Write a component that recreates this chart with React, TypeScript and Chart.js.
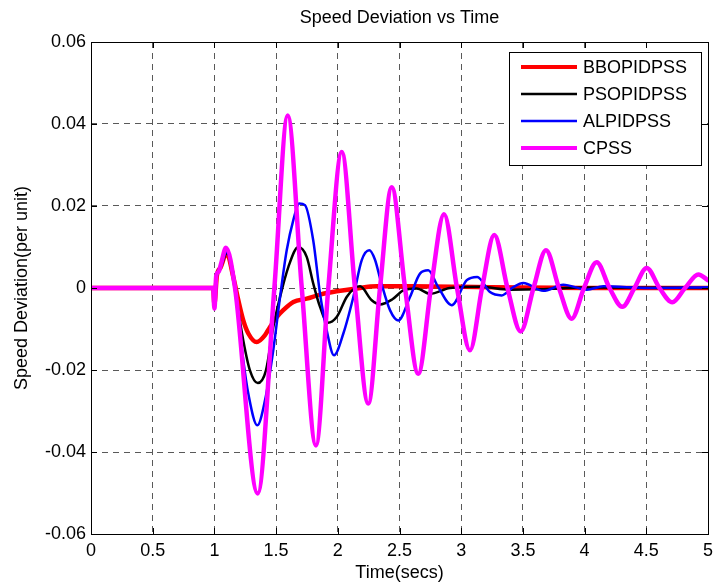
import { useEffect, useRef } from "react";
import { Chart, registerables } from "chart.js";

Chart.register(...registerables);

const chartTitle = "Speed Deviation vs Time";
const xAxisTitle = "Time(secs)";
const yAxisTitle = "Speed Deviation(per unit)";

const seriesLabels = ["BBOPIDPSS", "PSOPIDPSS", "ALPIDPSS", "CPSS"];
const seriesColors = ["#ff0000", "#000000", "#0000ff", "#ff00ff"];
const seriesWidths = [4.5, 2.5, 2.5, 4.5];

const xTickValues = [0, 0.5, 1, 1.5, 2, 2.5, 3, 3.5, 4, 4.5, 5];
const xTickLabels = ["0", "0.5", "1", "1.5", "2", "2.5", "3", "3.5", "4", "4.5", "5"];
const yTickValues = [-0.06, -0.04, -0.02, 0, 0.02, 0.04, 0.06];
const yTickLabels = ["-0.06", "-0.04", "-0.02", "0", "0.02", "0.04", "0.06"];

// BBOPIDPSS (red)
const bboTime = [0, 0.99, 1.0, 1.02, 1.05, 1.1, 1.153, 1.194, 1.234, 1.275, 1.343, 1.41, 1.451, 1.505, 1.558, 1.64, 1.748, 1.856, 1.99, 2.152, 2.315, 2.6, 3.0, 3.5, 4.0, 5.0];
const bboValue = [0, 0, -0.004, 0.003, 0.005, 0.0085, 0.0027, -0.003, -0.0079, -0.0111, -0.0132, -0.0115, -0.0095, -0.0071, -0.0054, -0.0034, -0.0026, -0.0016, -0.0008, -0.0001, 0.0004, 0.0004, 0.0003, 0.0001, 0.0, 0.0];

// PSOPIDPSS (black)
const psoTime = [0, 0.99, 1.0, 1.02, 1.05, 1.1, 1.15, 1.181, 1.234, 1.288, 1.351, 1.418, 1.477, 1.532, 1.599, 1.68, 1.748, 1.801, 1.856, 1.918, 1.991, 2.072, 2.139, 2.18, 2.275, 2.342, 2.44, 2.531, 2.639, 2.747, 2.909, 3.15, 3.395, 3.64, 4.0, 5.0];
const psoValue = [0, 0, -0.004, 0.003, 0.005, 0.0085, 0.004, -0.003, -0.0128, -0.0201, -0.0232, -0.0201, -0.0095, -0.0022, 0.0051, 0.01, 0.0076, 0.0011, -0.0046, -0.0085, -0.0071, -0.0022, 0, 0.0004, -0.003, -0.004, -0.0028, -0.0006, -0.0001, -0.0014, 0, 0.0003, -0.0004, -0.0003, 0.0001, 0.0];

// ALPIDPSS (blue)
const alpTime = [0, 0.99, 1.0, 1.02, 1.05, 1.1, 1.15, 1.194, 1.234, 1.275, 1.348, 1.41, 1.477, 1.532, 1.586, 1.639, 1.688, 1.734, 1.801, 1.856, 1.91, 1.969, 2.045, 2.126, 2.194, 2.255, 2.3, 2.35, 2.423, 2.49, 2.585, 2.666, 2.733, 2.814, 2.923, 3.045, 3.13, 3.233, 3.328, 3.422, 3.503, 3.665, 3.827, 4.017, 4.152, 4.53, 5.0];
const alpValue = [0, 0, -0.004, 0.003, 0.005, 0.0088, 0.003, -0.0071, -0.0176, -0.0258, -0.0335, -0.0274, -0.0152, -0.0022, 0.0092, 0.0165, 0.0206, 0.0202, 0.0116, -0.0014, -0.0103, -0.0164, -0.0111, -0.0022, 0.0068, 0.0092, 0.007, 0.0015, -0.0054, -0.0079, -0.0022, 0.0035, 0.0043, 0.0002, -0.0042, 0.0019, 0.0027, -0.001, -0.0018, 0.0002, 0.0012, -0.0007, 0.0008, -0.0004, 0.0004, 0, 0.0002];

// CPSS (magenta)
const cpssTime = [0, 0.99, 1.0, 1.015, 1.035, 1.055, 1.094, 1.167, 1.351, 1.486, 1.594, 1.708, 1.823, 1.923, 2.032, 2.139, 2.247, 2.342, 2.437, 2.545, 2.652, 2.755, 2.861, 2.966, 3.071, 3.169, 3.268, 3.375, 3.482, 3.586, 3.687, 3.792, 3.895, 3.995, 4.098, 4.202, 4.306, 4.404, 4.503, 4.607, 4.711, 4.814, 4.922, 5.0];
const cpssValue = [0, 0, -0.005, 0.003, 0.004, 0.006, 0.0098, 0, -0.0501, 0, 0.0421, 0, -0.0384, 0, 0.0332, 0, -0.0282, 0, 0.0246, 0, -0.0209, 0, 0.018, 0, -0.0152, 0, 0.0129, 0, -0.0106, 0, 0.0092, 0, -0.0075, 0, 0.0063, 0, -0.0046, 0, 0.0049, 0, -0.0035, 0, 0.0033, 0.0019];

const seriesTimes = [bboTime, psoTime, alpTime, cpssTime];
const seriesValues = [bboValue, psoValue, alpValue, cpssValue];

const FONT = "'Liberation Sans', Arial, Helvetica, sans-serif";

const framePlugin = {
  id: "matlabFrame",
  afterDatasetsDraw(chart: any) {
    const { ctx, chartArea, scales } = chart;
    const { left, right, top, bottom } = chartArea;
    ctx.save();
    ctx.strokeStyle = "#000";
    ctx.lineWidth = 1;
    ctx.beginPath();
    const tl = 6;
    scales.x.ticks.forEach((t: any) => {
      const px = Math.round(scales.x.getPixelForValue(t.value)) + 0.5;
      ctx.moveTo(px, bottom);
      ctx.lineTo(px, bottom - tl);
      ctx.moveTo(px, top);
      ctx.lineTo(px, top + tl);
    });
    scales.y.ticks.forEach((t: any) => {
      const py = Math.round(scales.y.getPixelForValue(t.value)) + 0.5;
      ctx.moveTo(left, py);
      ctx.lineTo(left + tl, py);
      ctx.moveTo(right, py);
      ctx.lineTo(right - tl, py);
    });
    ctx.stroke();
    ctx.strokeRect(Math.round(left) + 0.5, Math.round(top) + 0.5, Math.round(right - left), Math.round(bottom - top));

    // title centred over the plot area
    ctx.fillStyle = "#000";
    ctx.font = `18px ${FONT}`;
    ctx.textAlign = "center";
    ctx.textBaseline = "middle";
    ctx.fillText(chart.options.plugins.matlabFrame.title, (left + right) / 2, 18);

    // legend box
    const w = 192;
    const h = 113;
    const x0 = Math.round(right) - 7 - w;
    const y0 = Math.round(top) + 10;
    ctx.fillStyle = "#fff";
    ctx.fillRect(x0, y0, w, h);
    ctx.strokeRect(x0 + 0.5, y0 + 0.5, w, h);
    ctx.textBaseline = "middle";
    ctx.textAlign = "left";
    chart.data.datasets.forEach((ds: any, i: number) => {
      const y = y0 + 15 + i * 27;
      ctx.beginPath();
      ctx.strokeStyle = ds.borderColor;
      ctx.lineWidth = Math.min(ds.borderWidth, 4);
      ctx.moveTo(x0 + 12, y);
      ctx.lineTo(x0 + 68, y);
      ctx.stroke();
      ctx.fillStyle = "#000";
      ctx.fillText(ds.label, x0 + 74, y + 1);
    });
    ctx.restore();
  },
};

export default function App() {
  const canvasRef = useRef<HTMLCanvasElement | null>(null);

  useEffect(() => {
    document.body.style.margin = "0";
    const canvas = canvasRef.current;
    if (!canvas) return;
    Chart.defaults.font.family = FONT;
    Chart.defaults.color = "#000";

    const datasets = seriesLabels.map((label, i) => ({
      label,
      data: seriesTimes[i].map((t, j) => ({ x: t, y: seriesValues[i][j] })),
      borderColor: seriesColors[i],
      backgroundColor: seriesColors[i],
      borderWidth: seriesWidths[i],
      pointRadius: 0,
      showLine: true,
      fill: false,
      cubicInterpolationMode: "monotone" as const,
      order: seriesLabels.length - i,
      borderCapStyle: "round" as const,
      borderJoinStyle: "round" as const,
    }));

    const gridColor = "rgba(0,0,0,0.65)";

    const chart = new Chart(canvas, {
      type: "scatter",
      data: { datasets },
      plugins: [framePlugin],
      options: {
        animation: false,
        responsive: true,
        maintainAspectRatio: false,
        layout: { padding: { left: 0, right: 6, top: 42, bottom: 0 } },
        plugins: {
          legend: { display: false },
          tooltip: { enabled: false },
          title: { display: false },
          matlabFrame: { title: chartTitle },
        } as any,
        scales: {
          x: {
            type: "linear",
            min: 0,
            max: 5,
            afterBuildTicks: (s: any) => {
              s.ticks = xTickValues.map((v) => ({ value: v }));
            },
            afterFit: (s: any) => {
              s.height = 48;
              s.paddingLeft = 0;
              s.paddingRight = 0;
            },
            ticks: {
              autoSkip: false,
              maxRotation: 0,
              padding: 6,
              color: "#000",
              font: { size: 18, family: FONT },
              callback: (_v: any, i: number) => xTickLabels[i],
            },
            grid: { color: gridColor, lineWidth: 1, drawTicks: false },
            border: { display: false, dash: [6, 5] },
            title: {
              display: true,
              text: xAxisTitle,
              color: "#000",
              font: { size: 18, family: FONT, lineHeight: 1 },
              padding: { top: 0, bottom: 0 },
            },
          },
          y: {
            type: "linear",
            min: -0.06,
            max: 0.06,
            afterBuildTicks: (s: any) => {
              s.ticks = yTickValues.map((v) => ({ value: v }));
            },
            afterFit: (s: any) => {
              s.width = 91;
              s.paddingTop = 0;
              s.paddingBottom = 0;
            },
            ticks: {
              autoSkip: false,
              padding: 5,
              color: "#000",
              font: { size: 18, family: FONT },
              callback: (_v: any, i: number) => yTickLabels[i],
            },
            grid: { color: gridColor, lineWidth: 1, drawTicks: false },
            border: { display: false, dash: [6, 5] },
            title: {
              display: true,
              text: yAxisTitle,
              color: "#000",
              font: { size: 18, family: FONT },
              padding: { top: 11, bottom: 0 },
            },
          },
        },
      },
    });
    return () => chart.destroy();
  }, []);

  return (
    <div style={{ width: 714, height: 582, position: "relative" }}>
      <canvas ref={canvasRef} style={{ display: "block" }} />
    </div>
  );
}
